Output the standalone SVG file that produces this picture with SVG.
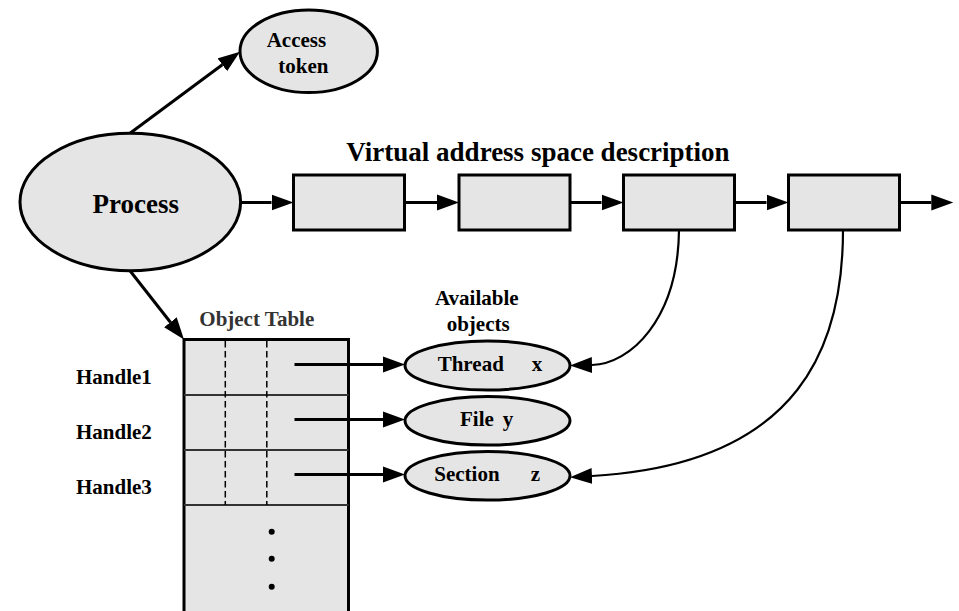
<svg xmlns="http://www.w3.org/2000/svg" width="959" height="611" viewBox="0 0 959 611">
<style>
.shape{fill:#e5e5e5;stroke:#000;stroke-width:3}
.lbl{font-family:"Liberation Serif","Times New Roman",serif;font-weight:bold;fill:#000}
.sm{font-size:21px}
.big{font-size:27px}
.conn{fill:none;stroke:#000;stroke-width:3}
.curve{fill:none;stroke:#000;stroke-width:2.2}
</style>
<defs>
<marker id="ah" markerUnits="userSpaceOnUse" markerWidth="23" markerHeight="17" refX="0" refY="8" orient="auto" viewBox="0 0 23 16">
<path d="M0,0 L22,8 L0,16 z" fill="#000"/>
</marker>
</defs>
<g id="process">
<ellipse class="shape" cx="130.3" cy="202" rx="110.3" ry="68.7"/>
<text class="lbl big" x="135.8" y="213.3" text-anchor="middle">Process</text>
</g>
<g id="access-token">
<ellipse class="shape" cx="308.7" cy="51.3" rx="68.7" ry="41.3"/>
<text class="lbl sm" x="266.7" y="46.7">Access</text>
<text class="lbl sm" x="278.3" y="73.3">token</text>
</g>
<g id="vas-title">
<text class="lbl big" x="538" y="161" text-anchor="middle">Virtual address space description</text>
</g>
<g id="vad1"><rect class="shape" x="293.5" y="175" width="111" height="55"/></g>
<g id="vad2"><rect class="shape" x="459" y="175" width="111" height="55"/></g>
<g id="vad3"><rect class="shape" x="623.5" y="175" width="111" height="55"/></g>
<g id="vad4"><rect class="shape" x="788.5" y="175" width="111" height="55"/></g>
<g id="object-table">
<text class="sm" x="199.3" y="326" style="font-family:'Liberation Serif','Times New Roman',serif;font-weight:bold;fill:#333">Object Table</text>
<rect x="184" y="339.5" width="164.5" height="290" fill="#e5e5e5" stroke="none"/>
<path d="M184,620 V339.5 H348.5 V620" fill="none" stroke="#000" stroke-width="3"/>
<path d="M184,395 H348.5 M184,450 H348.5 M184,505 H348.5" stroke="#333" stroke-width="2" fill="none"/>
<path d="M225.3,341 V505 M266.8,341 V505" stroke="#000" stroke-width="1.5" stroke-dasharray="6.5,3.5" fill="none"/>
<circle cx="271.7" cy="531.7" r="3"/>
<circle cx="271.7" cy="558.7" r="3"/>
<circle cx="271.7" cy="586.7" r="3"/>
</g>
<g id="handles">
<text class="lbl sm" x="76" y="384">Handle1</text>
<text class="lbl sm" x="76" y="438.5">Handle2</text>
<text class="lbl sm" x="76" y="493.5">Handle3</text>
</g>
<g id="available-title">
<text class="lbl sm" x="435" y="305">Available</text>
<text class="lbl sm" x="446.7" y="330.7">objects</text>
</g>
<g id="thread">
<ellipse class="shape" cx="487.5" cy="365.5" rx="82.5" ry="24.5"/>
<text class="lbl sm" x="437.7" y="370.7">Thread</text>
<text class="lbl sm" x="531.7" y="370.7">x</text>
</g>
<g id="file">
<ellipse class="shape" cx="487.5" cy="420.8" rx="82.5" ry="24.3"/>
<text class="lbl sm" x="460" y="425.7">File</text>
<text class="lbl sm" x="502.7" y="425.7">y</text>
</g>
<g id="section">
<ellipse class="shape" cx="487.5" cy="475.8" rx="82.5" ry="24.3"/>
<text class="lbl sm" x="434.3" y="480.5">Section</text>
<text class="lbl sm" x="530.7" y="480.5">z</text>
</g>
<g id="connectors">
<path class="conn" d="M130,133.3 L222.3,64.8" marker-end="url(#ah)"/>
<path class="conn" d="M130,270.7 L170.4,322.2" marker-end="url(#ah)"/>
<path class="conn" d="M240.6,202.5 H271.5" marker-end="url(#ah)"/>
<path class="conn" d="M404.5,202.5 H437" marker-end="url(#ah)"/>
<path class="conn" d="M570,202.5 H601.5" marker-end="url(#ah)"/>
<path class="conn" d="M734.5,202.5 H766.5" marker-end="url(#ah)"/>
<path class="conn" d="M899.5,202.5 H931.3" marker-end="url(#ah)"/>
<path class="conn" d="M294.5,364.5 H383" marker-end="url(#ah)"/>
<path class="conn" d="M294.5,419.5 H383" marker-end="url(#ah)"/>
<path class="conn" d="M294.5,474.5 H383" marker-end="url(#ah)"/>
<path class="curve" d="M679,230 C678,320 630,364 592,365" marker-end="url(#ah)"/>
<path class="curve" d="M843,230 C843,340 805,464 592,476" marker-end="url(#ah)"/>
</g>
</svg>
